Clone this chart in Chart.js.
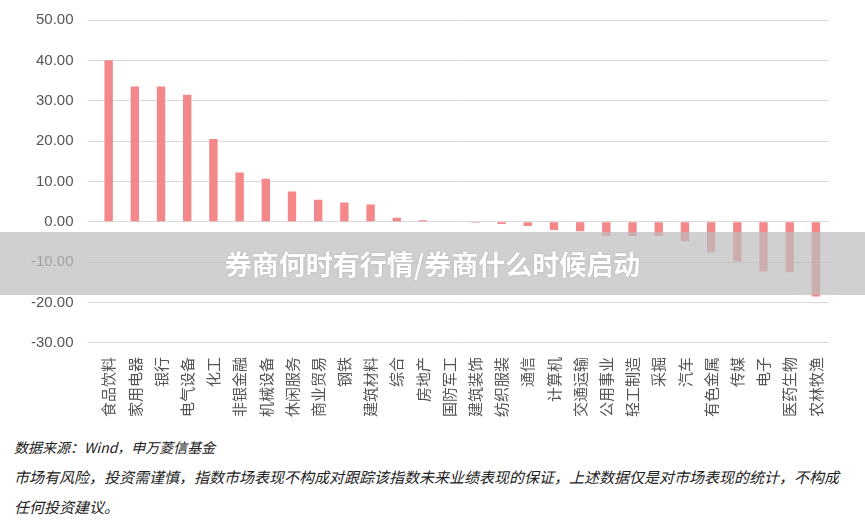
<!DOCTYPE html>
<html><head><meta charset="utf-8">
<script src="https://cdn.jsdelivr.net/npm/chart.js@4"></script>
<style>
body{margin:0;width:865px;height:526px;background:#fff;font-family:"Noto Sans CJK SC",sans-serif;position:relative;overflow:hidden}
#wrap{position:absolute;left:0;top:-3px;width:865px;height:426px}
.note{position:absolute;left:14px;font-size:15px;font-style:italic;color:#222;white-space:nowrap}
#band{position:absolute;left:0;top:232px;width:865px;height:63px;background:rgba(190,190,190,0.72);color:#fff;font-weight:bold;font-size:27px;text-align:center;line-height:63px;text-shadow:0 0 2px rgba(0,0,0,0.2)}
</style></head><body>
<div id="wrap"><canvas id="c"></canvas></div>
<div class="note" style="top:437px;font-size:14px">数据来源：Wind，申万菱信基金</div>
<div class="note" style="top:466px">市场有风险，投资需谨慎，指数市场表现不构成对跟踪该指数未来业绩表现的保证，上述数据仅是对市场表现的统计，不构成</div>
<div class="note" style="top:496px">任何投资建议。</div>
<div id="band">券商何时有行情/券商什么时候启动</div>
<script>
const categories=["食品饮料","家用电器","银行","电气设备","化工","非银金融","机械设备","休闲服务","商业贸易","钢铁","建筑材料","综合","房地产","国防军工","建筑装饰","纺织服装","通信","计算机","交通运输","公用事业","轻工制造","采掘","汽车","有色金属","传媒","电子","医药生物","农林牧渔"];
const values=[40,33.5,33.5,31.5,20.5,12.2,10.7,7.5,5.5,4.8,4.3,1.0,0.4,0,-0.2,-0.5,-1.0,-2.0,-2.3,-3.5,-3.5,-3.5,-4.8,-7.5,-9.8,-12.3,-12.5,-18.5];
new Chart(document.getElementById('c'),{type:'bar',
data:{labels:categories,datasets:[{data:values,backgroundColor:'#F4878A',barPercentage:0.32,categoryPercentage:1}]},
options:{responsive:true,maintainAspectRatio:false,animation:false,
layout:{padding:{top:0,right:36,left:17}},
plugins:{legend:{display:false},tooltip:{enabled:false}},
scales:{x:{grid:{display:false},border:{display:false},ticks:{autoSkip:false,minRotation:90,maxRotation:90,color:'#555',font:{size:15,family:'Noto Sans CJK SC'},padding:6}},
y:{min:-30,max:50,ticks:{stepSize:10,color:'#555',font:{size:15,family:'Liberation Sans'},padding:14,callback:v=>v.toFixed(2)},grid:{color:'#d9d9d9'},border:{display:false}}}}});
</script></body></html>
